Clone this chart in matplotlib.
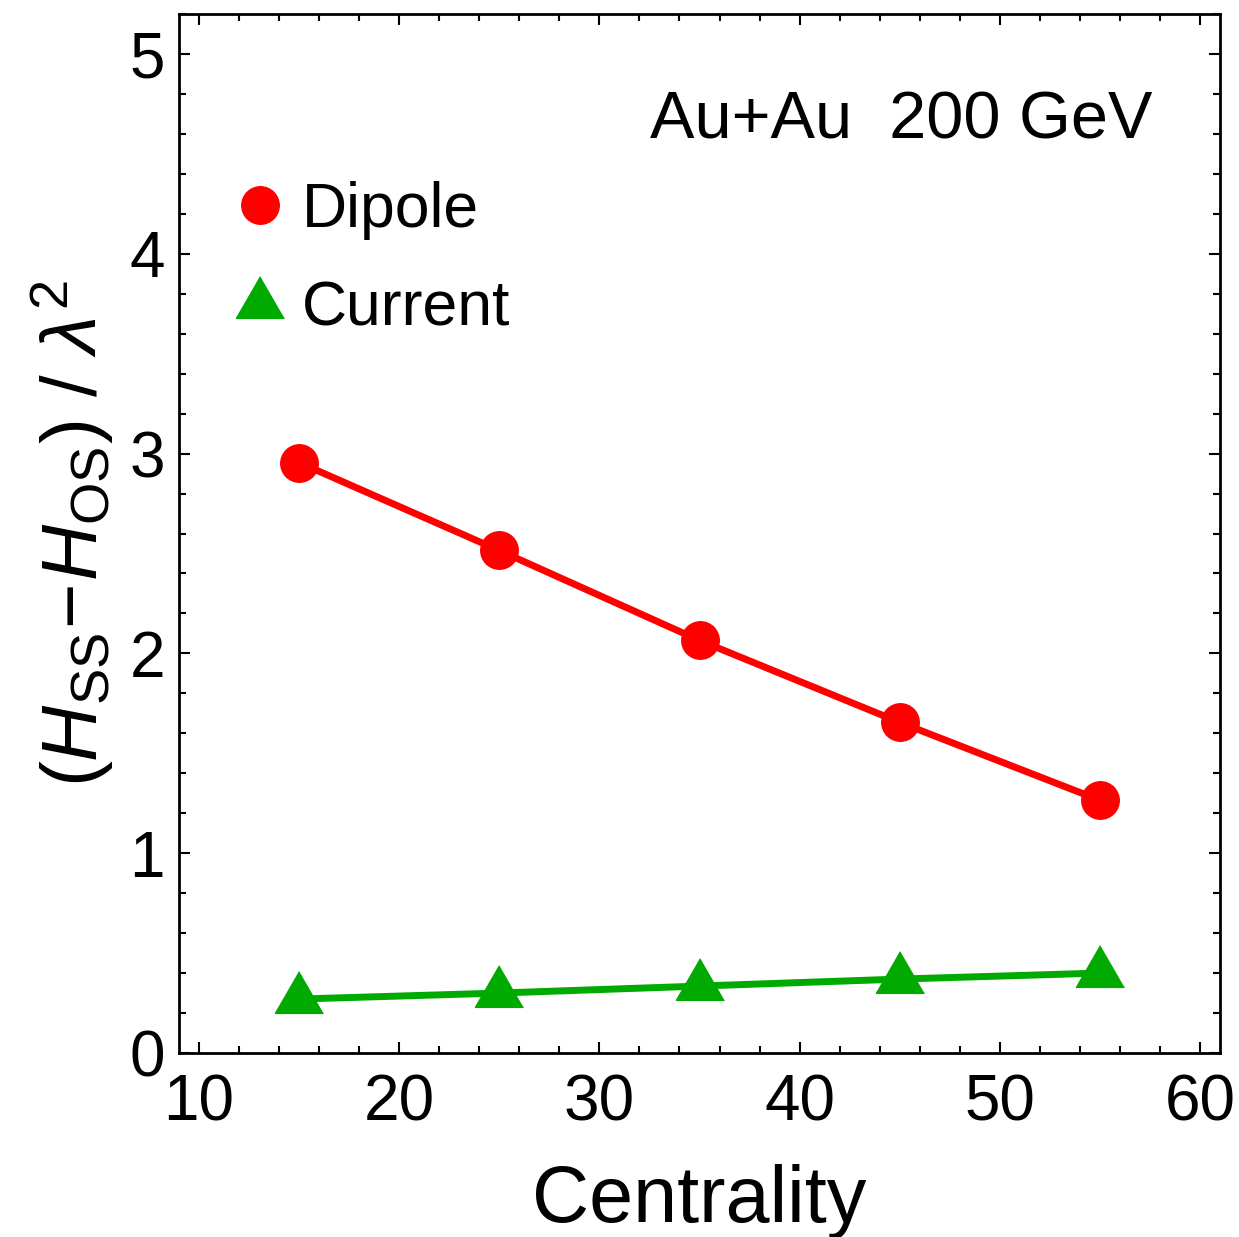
import matplotlib
matplotlib.use("Agg")
import matplotlib.pyplot as plt
from matplotlib.ticker import MultipleLocator

plt.rcParams['font.family'] = ['Liberation Sans', 'DejaVu Sans']
plt.rcParams['mathtext.fontset'] = 'custom'
plt.rcParams['mathtext.rm'] = 'Liberation Sans'
plt.rcParams['mathtext.it'] = 'Liberation Sans:italic'

centrality = [15, 25, 35, 45, 55]
dipole = [2.955, 2.515, 2.065, 1.655, 1.265]
current = [0.27, 0.30, 0.335, 0.37, 0.40]

red = '#FF0000'
green = '#00AA00'
tri = [(0, 1.155), (-1, -0.577), (1, -0.577)]

fig = plt.figure(figsize=(12.39, 12.37), dpi=100)
ax = fig.add_axes([179/1239, 1 - 1053/1237, (1220-179)/1239, (1053-14)/1237])

ax.plot(centrality, dipole, color=red, lw=5, marker='o', ms=27, label='Dipole')
ax.plot(centrality, current, color=green, lw=5, marker=tri, ms=40, label='Current')

ax.set_xlim(9, 61)
ax.set_ylim(0, 5.2)
ax.xaxis.set_major_locator(MultipleLocator(10))
ax.xaxis.set_minor_locator(MultipleLocator(2))
ax.yaxis.set_major_locator(MultipleLocator(1))
ax.yaxis.set_minor_locator(MultipleLocator(0.2))
ax.tick_params(which='both', direction='in', top=True, right=True, width=1.5, labelsize=46)
ax.tick_params(axis='x', which='both', pad=15)
ax.tick_params(axis='y', which='both', pad=10)
ax.tick_params(which='major', length=8)
ax.tick_params(which='minor', length=5)
for s in ax.spines.values():
    s.set_linewidth(2)

ax.set_xlabel('Centrality', fontsize=57, labelpad=22)
ax.set_ylabel(r'$(H_{\mathrm{SS}}\!-\!H_{\mathrm{OS}})\ /\ \lambda^2$', fontsize=56, labelpad=10)

ax.text(57.65, 4.575, 'Au+Au  200 GeV', fontsize=48, ha='right', va='baseline')

leg = ax.legend(loc='upper left', bbox_to_anchor=(0.027, 0.863), frameon=False, fontsize=45,
                borderaxespad=0, handlelength=0.9, handletextpad=0.22, labelspacing=0.63,
                markerscale=1.0)
for h in leg.legend_handles:
    h.set_linestyle('none')

fig.savefig('out.png', dpi=100)
